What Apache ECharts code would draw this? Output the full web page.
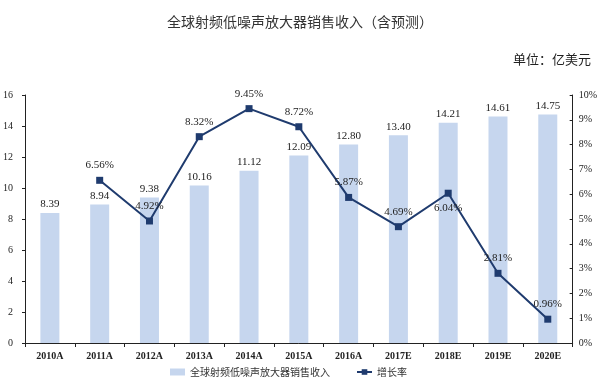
<!DOCTYPE html>
<html><head><meta charset="utf-8">
<script src="https://cdn.jsdelivr.net/npm/echarts@6/dist/echarts.min.js"></script>
<style>html,body{margin:0;padding:0;background:#fff}#c{width:600px;height:385px}</style>
</head><body><div id="c"></div>
<script>
const categories = ['2010A','2011A','2012A','2013A','2014A','2015A','2016A','2017E','2018E','2019E','2020E'];
const revenue = [8.39, 8.94, 9.38, 10.16, 11.12, 12.09, 12.80, 13.40, 14.21, 14.61, 14.75];
const growth = [null, 6.56, 4.92, 8.32, 9.45, 8.72, 5.87, 4.69, 6.04, 2.81, 0.96];
const leftTicks = [0, 16, 2];
const rightTicks = [0, 10, 1];

const serif = '"Liberation Serif","Times New Roman",serif';
const cjk = '"Noto Sans CJK SC",sans-serif';
const chart = echarts.init(document.getElementById('c'));
const growthData = growth.map((v, i) => {
  if (v === null) return null;
  const o = { value: v };
  if (categories[i] === '2018E') o.label = { position: 'bottom', offset: [0, 0] };
  return o;
});
chart.setOption({
  animation: false,
  title: [
    { text: '全球射频低噪声放大器销售收入（含预测）', left: 'center', top: 10,
      textStyle: { fontFamily: cjk, fontSize: 14, fontWeight: 'normal', color: '#333' } },
    { text: '单位：亿美元', right: 4, top: 48,
      textStyle: { fontFamily: cjk, fontSize: 13, fontWeight: 'normal', color: '#222' } }
  ],
  legend: {
    bottom: 3, left: 165, itemGap: 26, itemWidth: 15, itemHeight: 7,
    textStyle: { fontFamily: cjk, fontSize: 10, color: '#333' },
    data: [
      { name: '全球射频低噪声放大器销售收入', icon: 'rect', itemStyle: { color: '#c6d6ee' } },
      { name: '增长率' }
    ]
  },
  grid: { left: 23, right: 27, top: 95, bottom: 42 },
  xAxis: {
    type: 'category', data: categories,
    axisLine: { lineStyle: { color: '#222' } },
    axisTick: { show: true, length: 4, lineStyle: { color: '#222' } },
    axisLabel: { fontFamily: serif, fontWeight: 'bold', fontSize: 10, color: '#222', margin: 8 }
  },
  yAxis: [
    { type: 'value', min: leftTicks[0], max: leftTicks[1], interval: leftTicks[2],
      splitLine: { show: false },
      axisLine: { show: true, lineStyle: { color: '#222' } },
      axisTick: { show: true, length: 3, lineStyle: { color: '#222' } },
      axisLabel: { fontFamily: serif, fontSize: 10, color: '#222', margin: 12 } },
    { type: 'value', min: rightTicks[0], max: rightTicks[1], interval: rightTicks[2],
      splitLine: { show: false },
      axisLine: { show: true, lineStyle: { color: '#222' } },
      axisTick: { show: true, inside: true, length: 3, lineStyle: { color: '#222' } },
      axisLabel: { fontFamily: serif, fontSize: 10, color: '#222', margin: 6, formatter: '{value}%' } }
  ],
  series: [
    { name: '全球射频低噪声放大器销售收入', type: 'bar', data: revenue, barWidth: 19,
      itemStyle: { color: '#c6d6ee' },
      label: { show: true, position: 'top', distance: 3, fontFamily: serif, fontSize: 11, color: '#222', formatter: p => p.value.toFixed(2) } },
    { name: '增长率', type: 'line', yAxisIndex: 1, data: growthData,
      symbol: 'rect', symbolSize: 7, connectNulls: false,
      lineStyle: { color: '#1f3b6e', width: 2 },
      itemStyle: { color: '#1f3b6e' },
      label: { show: true, position: 'top', distance: 6, fontFamily: serif, fontSize: 11, color: '#222', formatter: p => p.value.toFixed(2) + '%' } }
  ]
});
</script></body></html>
